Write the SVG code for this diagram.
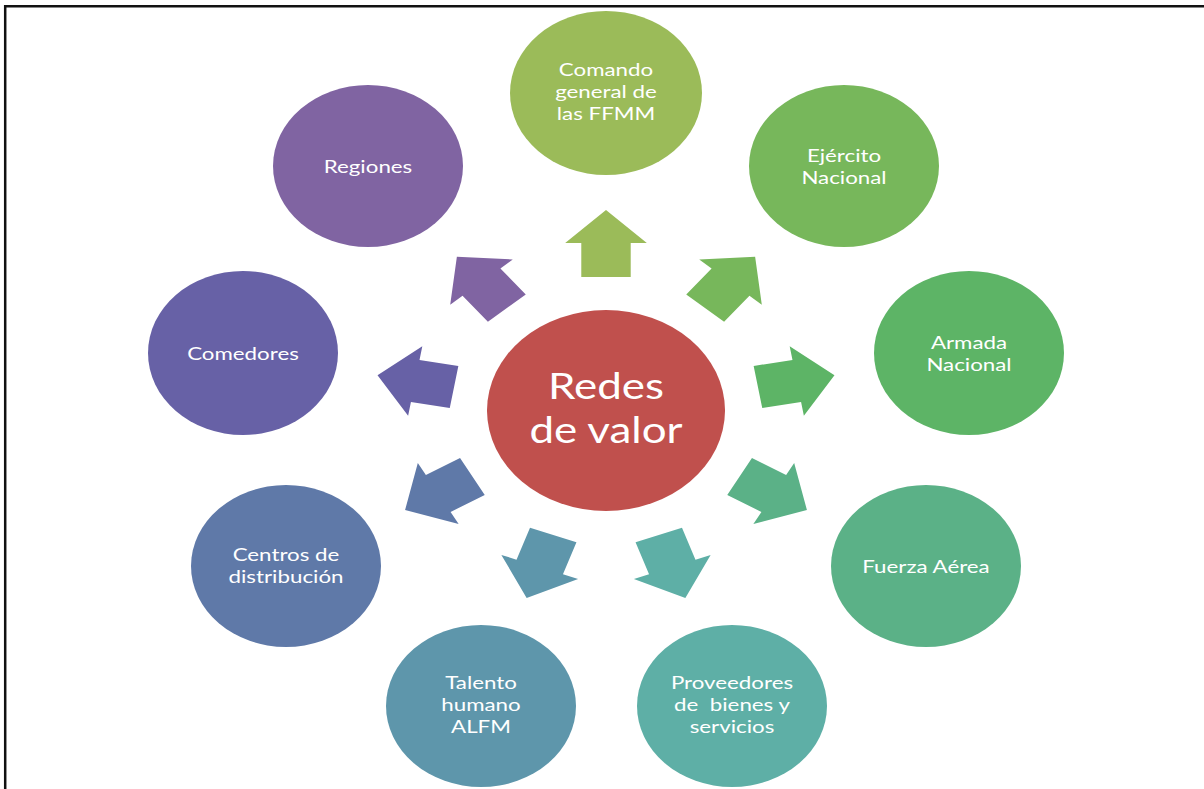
<svg xmlns="http://www.w3.org/2000/svg" width="1204" height="789" viewBox="0 0 1204 789">
<style>
.t{font-family:Lato,"Liberation Sans",sans-serif;font-size:18px;fill:#ffffff;text-anchor:middle}
.c{font-family:Lato,"Liberation Sans",sans-serif;font-size:36px;fill:#ffffff;text-anchor:middle}
</style>
<defs>
<path id="arr" d="M0,-200 L35.2,-167 L21.3,-167 L21.3,-133 L-21.3,-133 L-21.3,-167 L-35.2,-167 Z"/>
</defs>
<rect width="1204" height="789" fill="#ffffff"/>
<path d="M5.2,789 L5.2,6.2 L1204,6.2" fill="none" stroke="#111111" stroke-width="2.5"/>
<g id="connectors">
<use href="#arr" fill="#9BBB59" transform="translate(606,410) scale(1.16,1) rotate(0)"/>
<use href="#arr" fill="#77B75B" transform="translate(606,410) scale(1.16,1) rotate(40)"/>
<use href="#arr" fill="#5DB466" transform="translate(606,410) scale(1.16,1) rotate(80)"/>
<use href="#arr" fill="#5BB187" transform="translate(606,410) scale(1.16,1) rotate(120)"/>
<use href="#arr" fill="#5EAFA6" transform="translate(606,410) scale(1.16,1) rotate(160)"/>
<use href="#arr" fill="#5E96AB" transform="translate(606,410) scale(1.16,1) rotate(200)"/>
<use href="#arr" fill="#5F79A8" transform="translate(606,410) scale(1.16,1) rotate(240)"/>
<use href="#arr" fill="#6761A6" transform="translate(606,410) scale(1.16,1) rotate(280)"/>
<use href="#arr" fill="#8064A2" transform="translate(606,410) scale(1.16,1) rotate(320)"/>
</g>
<g id="center">
<ellipse cx="606" cy="410.5" rx="119" ry="100.5" fill="#C0504D"/>
<text class="c" transform="translate(606,399) scale(1.22,1)">Redes</text>
<text class="c" transform="translate(606,443) scale(1.22,1)">de valor</text>
</g>
<g id="comando">
<ellipse cx="606" cy="93" rx="96" ry="82" fill="#9BBB59"/>
<text class="t" transform="translate(606,76) scale(1.24,1)">Comando</text>
<text class="t" transform="translate(606,98) scale(1.24,1)">general de</text>
<text class="t" transform="translate(606,120) scale(1.24,1)">las FFMM</text>
</g>
<g id="ejercito">
<ellipse cx="844" cy="166" rx="95" ry="81" fill="#77B75B"/>
<text class="t" transform="translate(844,162) scale(1.24,1)">Ejército</text>
<text class="t" transform="translate(844,184) scale(1.24,1)">Nacional</text>
</g>
<g id="armada">
<ellipse cx="969" cy="353" rx="95" ry="82" fill="#5DB466"/>
<text class="t" transform="translate(969,349) scale(1.24,1)">Armada</text>
<text class="t" transform="translate(969,371) scale(1.24,1)">Nacional</text>
</g>
<g id="fuerza">
<ellipse cx="926" cy="566" rx="95" ry="81" fill="#5BB187"/>
<text class="t" transform="translate(926,573) scale(1.24,1)">Fuerza Aérea</text>
</g>
<g id="proveedores">
<ellipse cx="732" cy="706" rx="95" ry="81" fill="#5EAFA6"/>
<text class="t" transform="translate(732,689) scale(1.24,1)">Proveedores</text>
<text class="t" transform="translate(732,711) scale(1.24,1)" xml:space="preserve">de  bienes y</text>
<text class="t" transform="translate(732,733) scale(1.24,1)">servicios</text>
</g>
<g id="talento">
<ellipse cx="481" cy="706" rx="95" ry="81" fill="#5E96AB"/>
<text class="t" transform="translate(481,689) scale(1.24,1)">Talento</text>
<text class="t" transform="translate(481,711) scale(1.24,1)">humano</text>
<text class="t" transform="translate(481,733) scale(1.24,1)">ALFM</text>
</g>
<g id="centros">
<ellipse cx="286" cy="566" rx="95" ry="81" fill="#5F79A8"/>
<text class="t" transform="translate(286,561) scale(1.24,1)">Centros de</text>
<text class="t" transform="translate(286,583) scale(1.24,1)">distribución</text>
</g>
<g id="comedores">
<ellipse cx="243" cy="353" rx="95" ry="82" fill="#6761A6"/>
<text class="t" transform="translate(243,360) scale(1.24,1)">Comedores</text>
</g>
<g id="regiones">
<ellipse cx="368" cy="166" rx="95" ry="81" fill="#8064A2"/>
<text class="t" transform="translate(368,173) scale(1.24,1)">Regiones</text>
</g>
</svg>
